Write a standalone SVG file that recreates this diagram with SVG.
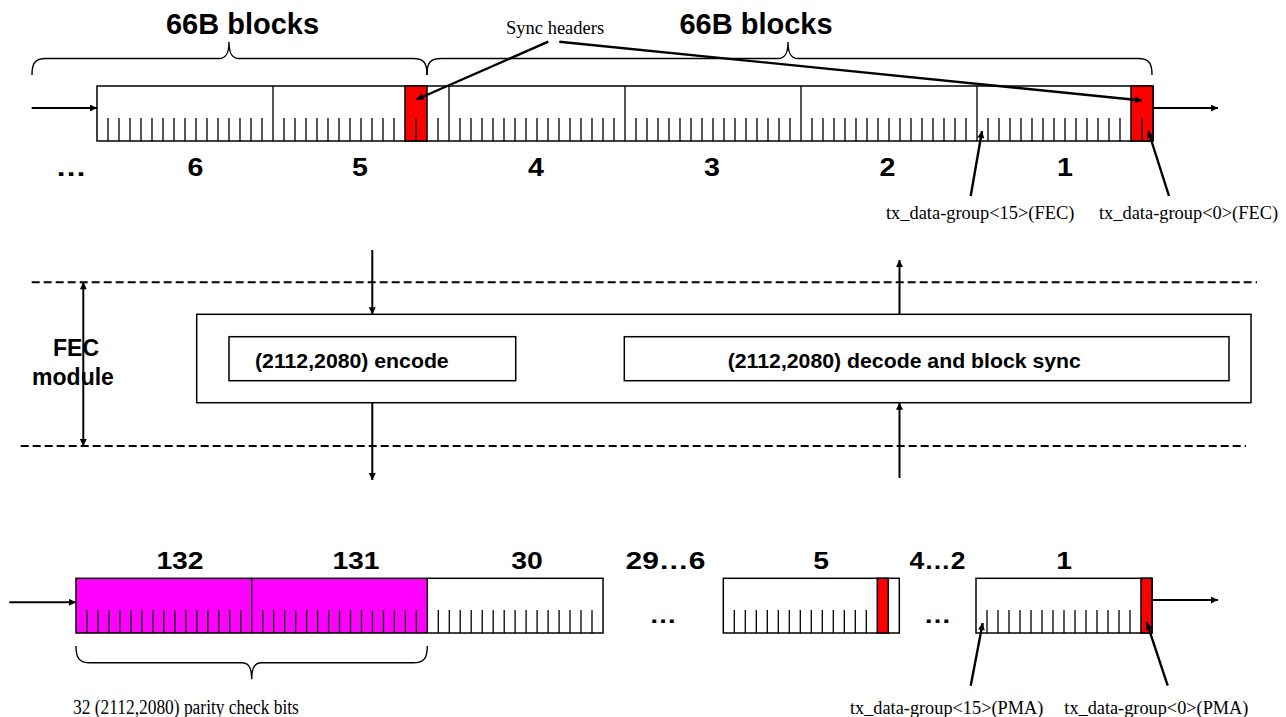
<svg xmlns="http://www.w3.org/2000/svg" width="1286" height="717" viewBox="0 0 1286 717">
<style>
.bg{fill:#fff}
.box{fill:#fff;stroke:#000;stroke-width:1.5}
.frame{fill:none;stroke:#000;stroke-width:1.5}
.red{fill:#ff0000;stroke:#000;stroke-width:1.5}
.mag{fill:#ff00ff;stroke:none}
.tick{fill:none;stroke:#000;stroke-width:1.3}
.arr{fill:none;stroke:#000;stroke-width:2;marker-end:url(#ah)}
.ptr{fill:none;stroke:#000;stroke-width:2.4;marker-end:url(#ah)}
.dash{fill:none;stroke:#000;stroke-width:2;stroke-dasharray:8,4}
.brace{fill:none;stroke:#000;stroke-width:1.4}
.hb{font-family:"Liberation Sans",Arial,sans-serif;font-weight:bold;fill:#000}
.tm{font-family:"Liberation Serif","Times New Roman",serif;fill:#000}
</style>
<defs>
<marker id="ah" viewBox="0 0 10 10" refX="10" refY="5" markerWidth="9" markerHeight="7" markerUnits="userSpaceOnUse" orient="auto-start-reverse">
<path d="M0,0 L10,5 L0,10 z" fill="#000"/>
</marker>
</defs>
<rect class="bg" x="0" y="0" width="1286" height="717"/>

<g id="top-braces">
<path class="brace" d="M32,75 C32,63 35,58.5 46,58.5 L219,58.5 C225,58.5 229,55 229,42 C229,55 233,58.5 239,58.5 L413,58.5 C424,58.5 427,63 427,75"/>
<path class="brace" d="M427,75 C427,63 430,58.5 441,58.5 L778,58.5 C784,58.5 788,55 788,42 C788,55 792,58.5 798,58.5 L1138,58.5 C1149,58.5 1152,63 1152,75"/>
<text class="hb" x="242.5" y="34.3" font-size="29" text-anchor="middle">66B blocks</text>
<text class="hb" x="756" y="34.3" font-size="29" text-anchor="middle">66B blocks</text>
<text class="tm" x="506" y="34.3" font-size="18.5">Sync headers</text>
</g>

<g id="top-strip">
<rect class="box" x="97" y="86" width="1056" height="55"/>
<rect class="red" x="405" y="86" width="22" height="55"/>
<rect class="red" x="1131" y="86" width="22" height="55"/>
<path class="tick" d="M273,86V141 M449,86V141 M625,86V141 M801,86V141 M977,86V141"/>
<path class="tick" d="M108,118V141 M119,118V141 M130,118V141 M141,118V141 M152,118V141 M163,118V141 M174,118V141 M185,118V141 M196,118V141 M207,118V141 M218,118V141 M229,118V141 M240,118V141 M251,118V141 M262,118V141"/>
<path class="tick" d="M284,118V141 M295,118V141 M306,118V141 M317,118V141 M328,118V141 M339,118V141 M350,118V141 M361,118V141 M372,118V141 M383,118V141 M394,118V141 M416,118V141 M438,118V141"/>
<path class="tick" d="M460,118V141 M471,118V141 M482,118V141 M493,118V141 M504,118V141 M515,118V141 M526,118V141 M537,118V141 M548,118V141 M559,118V141 M570,118V141 M581,118V141 M592,118V141 M603,118V141 M614,118V141"/>
<path class="tick" d="M636,118V141 M647,118V141 M658,118V141 M669,118V141 M680,118V141 M691,118V141 M702,118V141 M713,118V141 M724,118V141 M735,118V141 M746,118V141 M757,118V141 M768,118V141 M779,118V141 M790,118V141"/>
<path class="tick" d="M812,118V141 M823,118V141 M834,118V141 M845,118V141 M856,118V141 M867,118V141 M878,118V141 M889,118V141 M900,118V141 M911,118V141 M922,118V141 M933,118V141 M944,118V141 M955,118V141 M966,118V141"/>
<path class="tick" d="M988,118V141 M999,118V141 M1010,118V141 M1021,118V141 M1032,118V141 M1043,118V141 M1054,118V141 M1065,118V141 M1076,118V141 M1087,118V141 M1098,118V141 M1109,118V141 M1120,118V141 M1142,118V141"/>
<text class="hb" font-size="26" text-anchor="middle" transform="translate(71,176) scale(1.2,1)">…</text>
<text class="hb" font-size="26" text-anchor="middle" transform="translate(195.5,176) scale(1.1,1)">6</text>
<text class="hb" font-size="26" text-anchor="middle" transform="translate(360,176) scale(1.1,1)">5</text>
<text class="hb" font-size="26" text-anchor="middle" transform="translate(536,176) scale(1.1,1)">4</text>
<text class="hb" font-size="26" text-anchor="middle" transform="translate(712,176) scale(1.1,1)">3</text>
<text class="hb" font-size="26" text-anchor="middle" transform="translate(887.5,176) scale(1.1,1)">2</text>
<text class="hb" font-size="26" text-anchor="middle" transform="translate(1065,176) scale(1.1,1)">1</text>
</g>

<g id="top-pointer-labels">
<text class="tm" x="886" y="219" font-size="18.4">tx_data-group&lt;15&gt;(FEC)</text>
<text class="tm" x="1099" y="219" font-size="18.4">tx_data-group&lt;0&gt;(FEC)</text>
</g>

<g id="fec-module">
<path class="dash" d="M31.7,282.3 H1257"/>
<path class="dash" d="M20.7,446 H1246"/>
<text class="hb" x="76" y="356" font-size="23" text-anchor="middle">FEC</text>
<text class="hb" x="73" y="385" font-size="23" text-anchor="middle">module</text>
<rect class="box" x="196.7" y="314.3" width="1054.3" height="88.4"/>
</g>

<g id="encode">
<rect class="box" x="229" y="336.7" width="286.7" height="44"/>
<text class="hb" font-size="20" transform="translate(255,367.5) scale(1.063,1)">(2112,2080) encode</text>
</g>

<g id="decode">
<rect class="box" x="624.3" y="336.7" width="604.7" height="44"/>
<text class="hb" font-size="20" transform="translate(727.7,367.7) scale(1.064,1)">(2112,2080) decode and block sync</text>
</g>

<g id="bottom-strip">
<rect class="mag" x="76" y="578.3" width="351.3" height="54.7"/>
<rect class="frame" x="76" y="578.3" width="527" height="54.7"/>
<path class="tick" d="M251.7,578.3V633 M427.3,578.3V633"/>
<path class="tick" d="M87,610V633 M98,610V633 M108.9,610V633 M119.9,610V633 M130.9,610V633 M141.9,610V633 M152.9,610V633 M163.8,610V633 M174.8,610V633 M185.8,610V633 M196.8,610V633 M207.8,610V633 M218.7,610V633 M229.7,610V633 M240.7,610V633"/>
<path class="tick" d="M262.7,610V633 M273.7,610V633 M284.6,610V633 M295.6,610V633 M306.6,610V633 M317.6,610V633 M328.6,610V633 M339.5,610V633 M350.5,610V633 M361.5,610V633 M372.5,610V633 M383.5,610V633 M394.4,610V633 M405.4,610V633 M416.4,610V633"/>
<path class="tick" d="M438.3,610V633 M449.3,610V633 M460.2,610V633 M471.2,610V633 M482.2,610V633 M493.2,610V633 M504.2,610V633 M515.1,610V633 M526.1,610V633 M537.1,610V633 M548.1,610V633 M559.1,610V633 M570,610V633 M581,610V633 M592,610V633"/>
<path class="brace" d="M76,646 C76,658 79,662.8 90,662.8 L241.7,662.8 C247.7,662.8 251.7,666 251.7,679.3 C251.7,666 255.7,662.8 261.7,662.8 L413.3,662.8 C424.3,662.8 427.3,658 427.3,646"/>
<text class="tm" font-size="20" transform="translate(73,714) scale(0.87,1)">32 (2112,2080) parity check bits</text>
<text class="hb" font-size="24" text-anchor="middle" transform="translate(180,569.3) scale(1.18,1)">132</text>
<text class="hb" font-size="24" text-anchor="middle" transform="translate(356,569.3) scale(1.18,1)">131</text>
<text class="hb" font-size="24" text-anchor="middle" transform="translate(527,569.3) scale(1.18,1)">30</text>
<text class="hb" font-size="24" text-anchor="middle" transform="translate(665.5,569.3) scale(1.25,1)">29…6</text>
<text class="hb" font-size="24" text-anchor="middle" transform="translate(663,622.5) scale(1.15,1)">…</text>
</g>

<g id="bottom-block5">
<rect class="box" x="723.3" y="578.3" width="176" height="54.7"/>
<rect class="red" x="877.3" y="578.3" width="11" height="54.7"/>
<path class="tick" d="M734.3,610V633 M745.3,610V633 M756.3,610V633 M767.3,610V633 M778.3,610V633 M789.3,610V633 M800.3,610V633 M811.3,610V633 M822.3,610V633 M833.3,610V633 M844.3,610V633 M855.3,610V633 M866.3,610V633"/>
<text class="hb" font-size="24" text-anchor="middle" transform="translate(821,569.3) scale(1.18,1)">5</text>
<text class="hb" font-size="24" text-anchor="middle" transform="translate(937.5,569.3) scale(1.1,1)">4…2</text>
<text class="hb" font-size="24" text-anchor="middle" transform="translate(937.5,622.5) scale(1.15,1)">…</text>
</g>

<g id="bottom-block1">
<rect class="box" x="976" y="578.3" width="176" height="54.7"/>
<rect class="red" x="1141" y="578.3" width="11" height="54.7"/>
<path class="tick" d="M987,610V633 M998,610V633 M1009,610V633 M1020,610V633 M1031,610V633 M1042,610V633 M1053,610V633 M1064,610V633 M1075,610V633 M1086,610V633 M1097,610V633 M1108,610V633 M1119,610V633 M1130,610V633"/>
<text class="hb" font-size="24" text-anchor="middle" transform="translate(1064,569.3) scale(1.18,1)">1</text>
</g>

<g id="bottom-pointer-labels">
<text class="tm" x="850" y="713.5" font-size="18.3">tx_data-group&lt;15&gt;(PMA)</text>
<text class="tm" x="1064.3" y="713.5" font-size="18.3">tx_data-group&lt;0&gt;(PMA)</text>
</g>

<g id="connectors">
<line class="arr" x1="31.7" y1="108" x2="97" y2="108"/>
<line class="arr" x1="1153" y1="108" x2="1218" y2="108"/>
<line class="ptr" x1="548.3" y1="41.7" x2="416.5" y2="99.5"/>
<line class="ptr" x1="559.3" y1="41.7" x2="1142" y2="100.5"/>
<line class="ptr" x1="970.7" y1="196" x2="982" y2="131"/>
<line class="ptr" x1="1169" y1="196" x2="1148.3" y2="131"/>
<line class="arr" x1="372.3" y1="250" x2="372.3" y2="314.3"/>
<line class="arr" x1="372.3" y1="402.7" x2="372.3" y2="480"/>
<line class="arr" x1="899.5" y1="314.3" x2="899.5" y2="260"/>
<line class="arr" x1="899.5" y1="478" x2="899.5" y2="402.7"/>
<line class="arr" style="marker-start:url(#ah)" x1="83.3" y1="282.3" x2="83.3" y2="446"/>
<line class="arr" x1="9.3" y1="602.3" x2="76" y2="602.3"/>
<line class="arr" x1="1152" y1="600" x2="1218" y2="600"/>
<line class="ptr" x1="970.7" y1="685.7" x2="982.7" y2="623"/>
<line class="ptr" x1="1167.7" y1="685.7" x2="1146.7" y2="622.3"/>
</g>
</svg>
